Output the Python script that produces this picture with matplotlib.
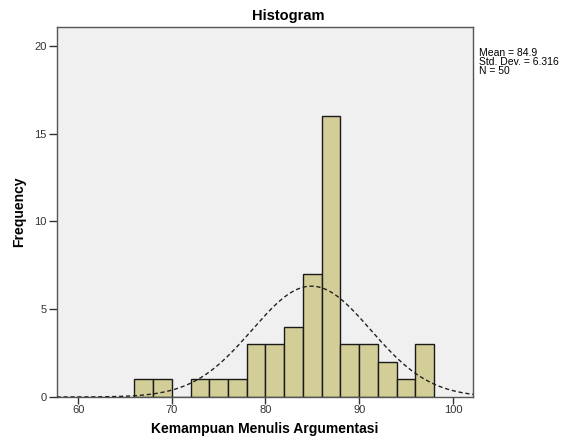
import numpy as np
import matplotlib
matplotlib.use("Agg")
import matplotlib.pyplot as plt

plt.rcParams['font.family'] = ['Liberation Sans', 'DejaVu Sans']

# histogram bins (width 2) and counts
bin_edges = [66, 68, 70, 72, 74, 76, 78, 80, 82, 84, 86, 88, 90, 92, 94, 96, 98]
counts = [1, 1, 0, 1, 1, 1, 3, 3, 4, 7, 16, 3, 3, 2, 1, 3]
mean = 84.9
std = 6.316
n = 50
x_ticks = [60, 70, 80, 90, 100]
y_ticks = [0, 5, 10, 15, 20]

fig = plt.figure(figsize=(5.71, 4.37), dpi=100)
ax = fig.add_axes([57 / 571, 40 / 437, 416 / 571, 370 / 437])
ax.set_facecolor('#F0F0F0')

lefts = np.array(bin_edges[:-1])
widths = np.diff(bin_edges)
ax.bar(lefts, counts, width=widths, align='edge', color='#D3CE97',
       edgecolor='#1a1a1a', linewidth=1.0, zorder=2)

# normal curve scaled to frequency
bw = widths[0]
xs = np.linspace(57.7, 102.2, 400)
ys = n * bw * np.exp(-0.5 * ((xs - mean) / std) ** 2) / (std * np.sqrt(2 * np.pi))
ax.plot(xs, ys, color='#222222', linestyle=(0, (3, 2)), linewidth=1.0, zorder=3)

ax.set_xlim(57.75, 102.15)
ax.set_ylim(0, 21.08)
ax.set_xticks(x_ticks)
ax.set_yticks(y_ticks)
ax.tick_params(axis='both', labelsize=8, colors='#333333', length=6, width=1,
               direction='out')
ax.tick_params(axis='y', pad=1.5)
ax.tick_params(axis='x', length=5, pad=1)
for s in ax.spines.values():
    s.set_color('#555555')
    s.set_linewidth(1.0)

ax.set_xlabel('Kemampuan Menulis Argumentasi', fontsize=10, fontweight='bold',
              labelpad=5)
ax.set_ylabel('Frequency', fontsize=10, fontweight='bold', labelpad=6)
fig.text(288 / 571, 1 - 16 / 437, 'Histogram', fontsize=10.5,
         fontweight='bold', ha='center', va='center')

fig.text(479 / 571, 1 - 48 / 437,
         'Mean = %.1f\nStd. Dev. = %.3f\nN = %d' % (mean, std, n),
         fontsize=7.5, va='top', ha='left', linespacing=0.9)

fig.savefig('out.png', dpi=100)
